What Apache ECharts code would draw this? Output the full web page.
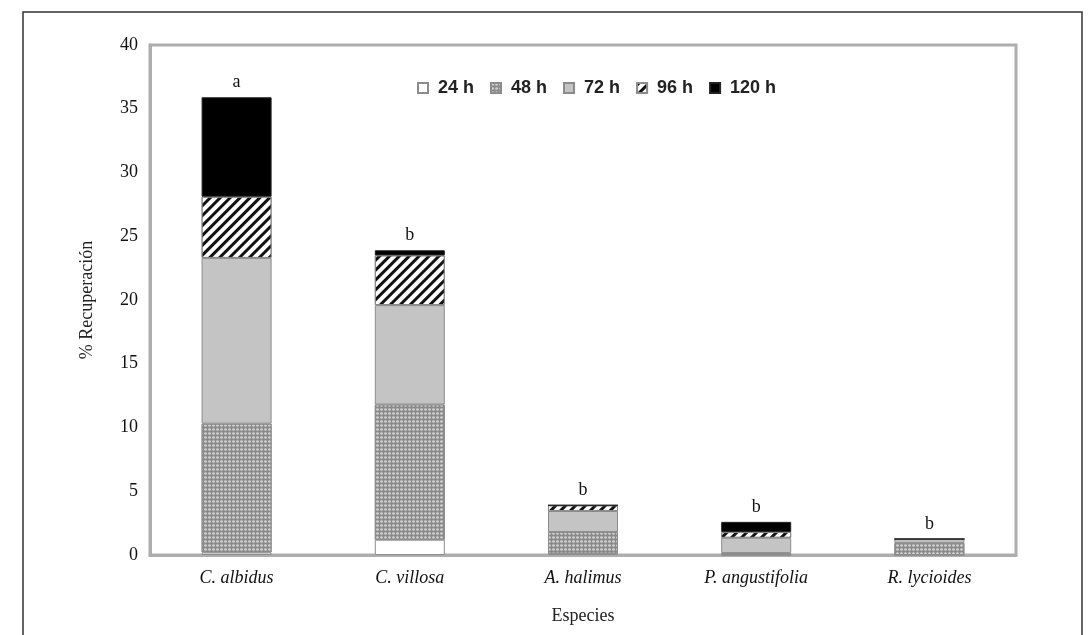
<!DOCTYPE html>
<html>
<head>
<meta charset="utf-8">
<script src="https://cdn.jsdelivr.net/npm/echarts@6/dist/echarts.min.js"></script>
<style>
  html, body { margin: 0; padding: 0; background: #fff; }
  #main { width: 1090px; height: 635px; }
</style>
</head>
<body>
<div id="main"></div>
<script>
var especies = ['C. albidus', 'C. villosa', 'A. halimus', 'P. angustifolia', 'R. lycioides'];
var tiempos = ['24 h', '48 h', '72 h', '96 h', '120 h'];
var v24 = [0.2, 1.2, 0.1, 0, 0];
var v48 = [10.1, 10.6, 1.7, 0.15, 0.95];
var v72 = [13.0, 7.8, 1.65, 1.2, 0.3];
var v96 = [4.8, 3.9, 0.45, 0.45, 0];
var v120 = [7.8, 0.4, 0, 0.8, 0];
var letras = ['a', 'b', 'b', 'b', 'b'];

var dom = document.getElementById('main');
var myChart = echarts.init(dom);

// estilos de cada serie (trama tipo Excel)
var estilos = [
    { color: '#ffffff', borderColor: '#8c8c8c', borderWidth: 1 },
    { color: '#8a8a8a', borderColor: '#8c8c8c', borderWidth: 1,
      decal: { symbol: 'circle', symbolSize: 0.9, color: '#d4d4d4', dashArrayX: [3, 1], dashArrayY: [3, 1], rotation: 0 } },
    { color: '#c4c4c4', borderColor: '#8c8c8c', borderWidth: 1 },
    { color: '#ffffff', borderColor: '#8c8c8c', borderWidth: 1,
      decal: { symbol: 'rect', color: '#111111', dashArrayX: [1, 0], dashArrayY: [3, 4], rotation: -Math.PI / 4 } },
    { color: '#000000', borderColor: '#222222', borderWidth: 1 }
];
var valores = [v24, v48, v72, v96, v120];

var series = tiempos.map(function (t, i) {
    return {
        name: t,
        type: 'bar',
        stack: 'total',
        barWidth: 70,
        data: valores[i],
        itemStyle: estilos[i]
    };
});

// letras de significancia encima de cada barra
series.push({
    name: 'sig',
    type: 'bar',
    stack: 'total',
    barWidth: 70,
    data: especies.map(function () { return 0; }),
    itemStyle: { color: 'transparent' },
    label: {
        show: true,
        position: 'top',
        distance: 6,
        formatter: function (p) { return letras[p.dataIndex]; },
        fontFamily: 'Liberation Serif',
        fontSize: 18,
        color: '#111'
    }
});

option = {
    animation: false,
    backgroundColor: '#ffffff',
    graphic: [{
        type: 'rect',
        shape: { x: 23, y: 12, width: 1059, height: 700 },
        style: { fill: 'none', stroke: '#333333', lineWidth: 1.5 }
    }],
    grid: {
        left: 150,
        right: 74,
        top: 45,
        bottom: 80,
        show: true,
        borderColor: '#aeaeae',
        borderWidth: 3
    },
    legend: {
        data: tiempos,
        top: 74,
        left: 412,
        icon: 'rect',
        itemWidth: 10,
        itemHeight: 10,
        itemGap: 16,
        textStyle: {
            fontFamily: 'Liberation Sans',
            fontWeight: 'bold',
            fontSize: 18,
            color: '#222',
            padding: [0, 0, 0, 5]
        }
    },
    xAxis: {
        type: 'category',
        data: especies,
        name: 'Especies',
        nameLocation: 'middle',
        nameGap: 52,
        nameTextStyle: { fontFamily: 'Liberation Serif', fontSize: 18, color: '#222' },
        axisLine: { lineStyle: { color: '#aeaeae', width: 3 } },
        axisTick: { show: false },
        axisLabel: {
            margin: 14,
            fontFamily: 'Liberation Serif',
            fontStyle: 'italic',
            fontSize: 18,
            color: '#111'
        }
    },
    yAxis: {
        type: 'value',
        min: 0,
        max: 40,
        interval: 5,
        name: '% Recuperación',
        nameLocation: 'middle',
        nameGap: 54,
        nameTextStyle: { fontFamily: 'Liberation Serif', fontSize: 18, color: '#222' },
        axisLine: { show: true, lineStyle: { color: '#aeaeae', width: 3 } },
        axisTick: { show: false },
        splitLine: { show: false },
        axisLabel: {
            margin: 12,
            fontFamily: 'Liberation Serif',
            fontSize: 18,
            color: '#111',
            padding: [0, 0, 5, 0]
        }
    },
    series: series
};
myChart.setOption(option);
</script>
</body>
</html>
